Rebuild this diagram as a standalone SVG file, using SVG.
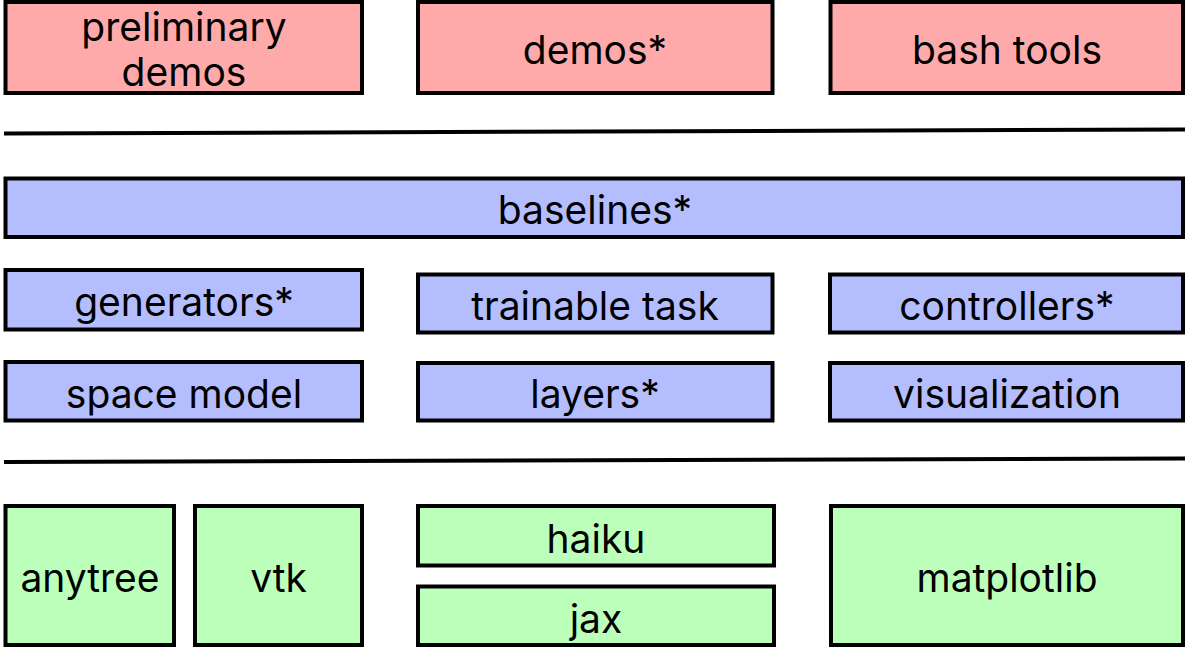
<svg xmlns="http://www.w3.org/2000/svg" width="1185" height="648" viewBox="0 0 1185 648">
<style>
rect{stroke:#000;stroke-width:4}
.r{fill:#ffaaaa}
.b{fill:#b4befe}
.g{fill:#bbffbb}
text{font-family:Inter,"Liberation Sans",sans-serif;font-size:39px;fill:#000;text-anchor:middle}
line{stroke:#000;stroke-width:4}
</style>
<rect width="1185" height="648" fill="#fff" style="stroke:none"/>
<g id="connectors">
<line x1="4" y1="133.5" x2="1185" y2="129.5"/>
<line x1="4" y1="462" x2="1185" y2="458.5"/>
</g>
<g id="preliminary-demos"><rect class="r" x="5.5" y="2" width="356.5" height="91"/><text x="184" y="40.5">preliminary</text><text x="184" y="86">demos</text></g>
<g id="demos"><rect class="r" x="418" y="2" width="354.5" height="91"/><text x="595" y="64">demos*</text></g>
<g id="bash-tools"><rect class="r" x="830.5" y="2" width="352.5" height="91"/><text x="1007" y="64">bash tools</text></g>
<g id="baselines"><rect class="b" x="5.5" y="178.5" width="1177.5" height="58.5"/><text x="595" y="224">baselines*</text></g>
<g id="generators"><rect class="b" x="5.5" y="270" width="356.5" height="59.5"/><text x="184" y="316">generators*</text></g>
<g id="trainable-task"><rect class="b" x="418" y="274.5" width="354.5" height="58"/><text x="595" y="320">trainable task</text></g>
<g id="controllers"><rect class="b" x="830" y="274.5" width="353" height="58"/><text x="1007" y="320">controllers*</text></g>
<g id="space-model"><rect class="b" x="5.5" y="362" width="356.5" height="58.5"/><text x="184" y="408">space model</text></g>
<g id="layers"><rect class="b" x="418" y="363" width="354.5" height="57.5"/><text x="595" y="408">layers*</text></g>
<g id="visualization"><rect class="b" x="830" y="363" width="353" height="57.5"/><text x="1007" y="408">visualization</text></g>
<g id="anytree"><rect class="g" x="5.5" y="506" width="168.5" height="139"/><text x="90" y="592">anytree</text></g>
<g id="vtk"><rect class="g" x="195" y="506" width="167" height="139"/><text x="278.5" y="592">vtk</text></g>
<g id="haiku"><rect class="g" x="418" y="506" width="356" height="59.5"/><text x="596" y="552.5">haiku</text></g>
<g id="jax"><rect class="g" x="418" y="586.5" width="356" height="58.5"/><text x="596" y="632.5">jax</text></g>
<g id="matplotlib"><rect class="g" x="831" y="506" width="352" height="139"/><text x="1007" y="592">matplotlib</text></g>
</svg>
